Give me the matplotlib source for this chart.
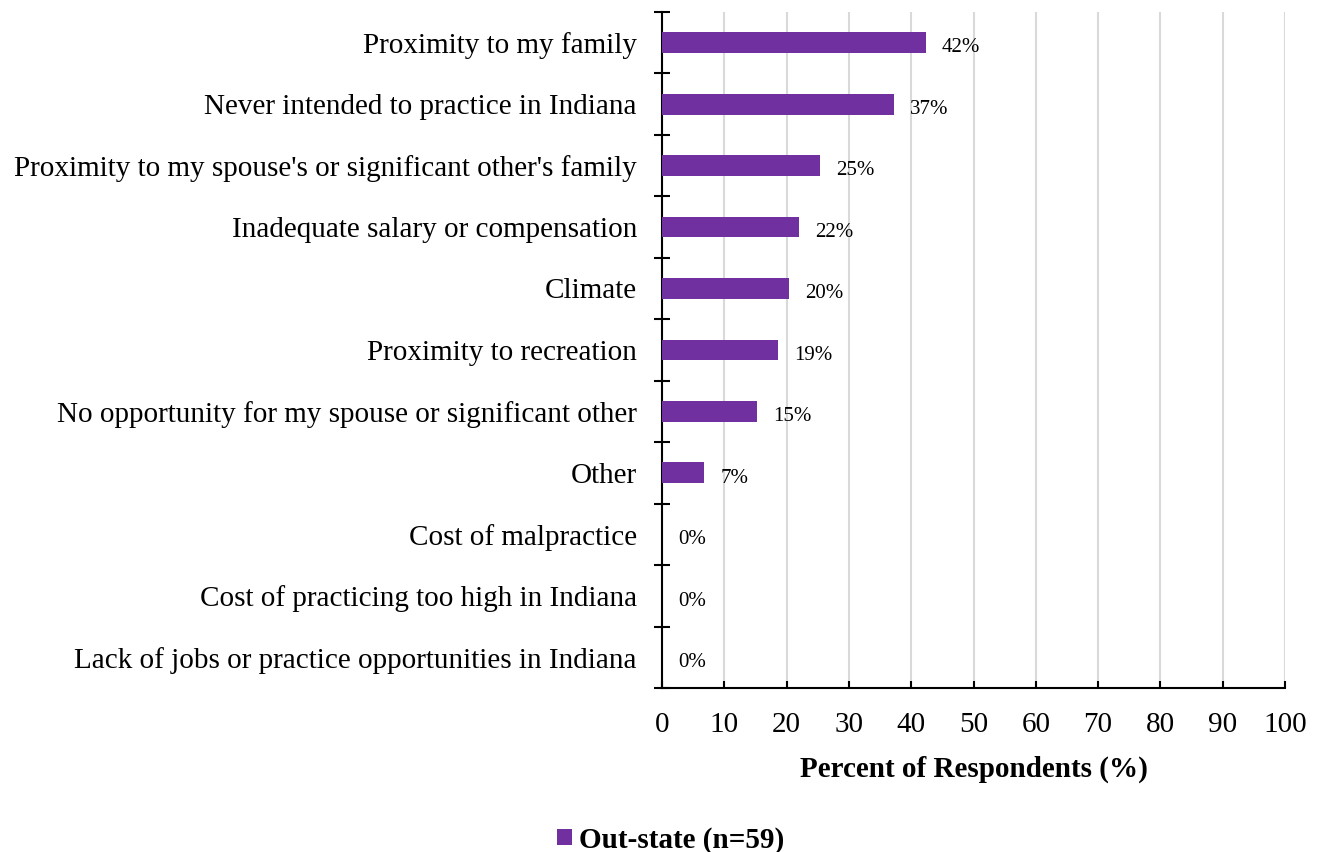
import numpy as np
import matplotlib.pyplot as plt

plt.rcParams['font.family'] = ['Liberation Serif', 'DejaVu Serif']

# reasons for leaving, top to bottom
reasons = [
    "Proximity to my family",
    "Never intended to practice in Indiana",
    "Proximity to my spouse's or significant other's family",
    "Inadequate salary or compensation",
    "Climate",
    "Proximity to recreation",
    "No opportunity for my spouse or significant other",
    "Other",
    "Cost of malpractice",
    "Cost of practicing too high in Indiana",
    "Lack of jobs or practice opportunities in Indiana",
]
counts = [25, 22, 15, 13, 12, 11, 9, 4, 0, 0, 0]
n_resp = 59
percent = [100.0 * c / n_resp for c in counts]
series_name = "Out-state (n=59)"
xticks = list(range(0, 101, 10))

purple = "#7030A0"

fig = plt.figure(figsize=(13.2, 8.52), dpi=100)
ax = fig.add_axes([0.5015, 0.1925, 0.472, 0.7935])

y = np.arange(len(reasons))
bars = ax.barh(y, percent, height=0.34, color=purple, label=series_name, zorder=3)

# value labels just right of each bar
for yi, v in zip(y, percent):
    ax.annotate(f"{v:.0f}%", (v, yi), xytext=(11.5, -2), textcoords="offset points",
                va="center_baseline", ha="left", fontsize=15)

ax.set_ylim(len(reasons) - 0.5, -0.5)
ax.set_xlim(0, 100)

# category labels sit between boundary ticks
ax.set_yticks(np.arange(-0.5, len(reasons), 1.0))
ax.set_yticklabels([])
ax.set_yticks(y, minor=True)
ax.set_yticklabels(reasons, minor=True, fontsize=21)
ax.tick_params(axis="y", which="major", direction="inout", length=12, width=1.5)
ax.tick_params(axis="y", which="minor", length=0, pad=18)

ax.set_xticks(xticks)
ax.set_xticklabels([str(t) for t in xticks], fontsize=21)
ax.tick_params(axis="x", direction="in", length=5, width=1.5, pad=17)

ax.xaxis.grid(True, color="#d9d9d9", linewidth=1.5, zorder=0)
ax.set_axisbelow(True)

for side in ("top", "right"):
    ax.spines[side].set_visible(False)
for side in ("left", "bottom"):
    ax.spines[side].set_linewidth(1.5)

ax.set_xlabel("Percent of Respondents (%)", fontsize=21, fontweight="bold", labelpad=13)

fig.legend(handles=[bars], labels=[series_name], loc="center", bbox_to_anchor=(0.508, 0.014),
           frameon=False, handlelength=0.5, handleheight=0.5, handletextpad=0.25,
           prop={"size": 21, "weight": "bold"})

fig.savefig("out.png", dpi=100)
